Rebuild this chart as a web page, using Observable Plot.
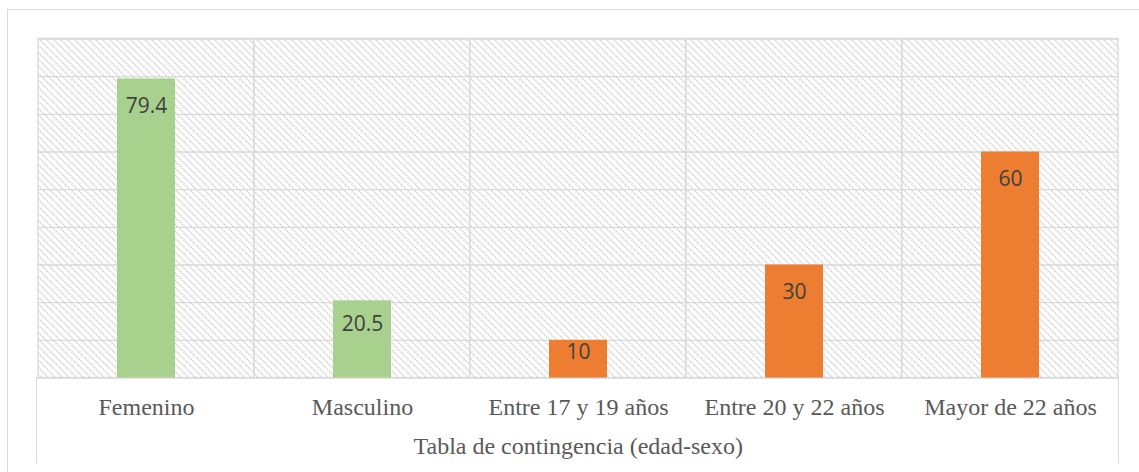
<!DOCTYPE html>
<html>
<head>
<meta charset="utf-8">
<script src="https://cdn.jsdelivr.net/npm/d3@7"></script>
<script src="https://cdn.jsdelivr.net/npm/@observablehq/plot@0.6"></script>
<style>
  html, body { margin: 0; padding: 0; background: #ffffff; }
  #wrap { position: relative; width: 1139px; height: 472px; overflow: hidden; }
  #wrap svg { position: absolute; left: 0; top: 0; }
  .line { position: absolute; background: #d9d9d9; }
</style>
</head>
<body>
<div id="wrap">
  <div class="line" style="left:7px; top:9px; width:1132px; height:1.4px;"></div>
  <div class="line" style="left:7px; top:9px; width:1.4px; height:463px;"></div>
  <div class="line" style="left:36.2px; top:377px; width:1.3px; height:86px;"></div>
  <div class="line" style="left:1117.8px; top:377px; width:1.3px; height:86px;"></div>
</div>
<script>
// ---- data ----
const categories = ["Femenino", "Masculino", "Entre 17 y 19 años", "Entre 20 y 22 años", "Mayor de 22 años"];
const values = [79.4, 20.5, 10, 30, 60];
const groups = ["sexo", "sexo", "edad", "edad", "edad"];
const groupColors = {sexo: "#A9D18E", edad: "#ED7D31"};
const yTicks = [0, 10, 20, 30, 40, 50, 60, 70, 80, 90];
const axisTitle = "Tabla de contingencia (edad-sexo)";

const data = categories.map((c, i) => ({category: c, value: values[i], group: groups[i]}));

// pattern definition mark
const hatchDefs = () => {
  const g = d3.create("svg:g");
  const p = g.append("defs").append("pattern")
    .attr("id", "hatch")
    .attr("patternUnits", "userSpaceOnUse")
    .attr("width", 7).attr("height", 7);
  p.append("rect").attr("width", 7).attr("height", 7).attr("fill", "#ffffff");
  p.append("path")
    .attr("d", "M0,0L7,7M-1,6L1,8M6,-1L8,1")
    .attr("stroke", "#d3d3d3")
    .attr("stroke-width", 1.7)
    .attr("stroke-dasharray", "1.4 0.9");
  return g.node();
};

const serif = "'Liberation Serif', 'DejaVu Serif', serif";

const chart = Plot.plot({
  width: 1139,
  height: 472,
  marginLeft: 37,
  marginRight: 20.5,
  marginTop: 38.5,
  marginBottom: 94.5,
  style: {background: "transparent", overflow: "visible"},
  x: {type: "band", domain: categories, padding: 0, axis: null},
  y: {domain: [0, 90], axis: null},
  marks: [
    hatchDefs,
    Plot.barY(categories, {x: d => d, y1: 0, y2: 90, fill: "url(#hatch)", stroke: "#d9d9d9", strokeWidth: 1.3}),
    Plot.ruleY(yTicks, {stroke: "#d9d9d9", strokeWidth: 1.3}),
    Plot.barY(data, {x: "category", y: "value", fill: d => groupColors[d.group], insetLeft: 79, insetRight: 79}),
    Plot.text(data, {
      x: "category",
      y: d => d.value - Math.min(7.3, d.value * 0.31),
      text: d => String(d.value),
      fontFamily: "'Open Sans', 'Noto Sans', sans-serif",
      fontSize: 21,
      fill: "#404040",
      lineAnchor: "middle"
    }),
    Plot.axisX({tickSize: 0, tickPadding: 20, fontSize: 24, fontFamily: serif, color: "#595959", label: null}),
    Plot.text([axisTitle], {frameAnchor: "bottom", dy: 68.5, lineAnchor: "middle", fontSize: 24, fontFamily: serif, fill: "#595959"})
  ]
});
document.getElementById("wrap").appendChild(chart);
</script>
</body>
</html>
